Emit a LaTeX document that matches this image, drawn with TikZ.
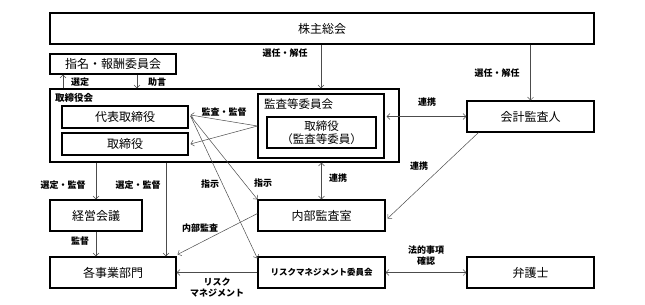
\documentclass[tikz,border=0pt]{standalone}
\usepackage{fontspec}
\setmainfont{Noto Sans CJK JP}
\usetikzlibrary{arrows.meta}
\tikzset{
  box/.style={draw=black, line width=1.1pt, inner sep=0pt, font=\fontsize{12}{14}\selectfont},
  lbl/.style={inner sep=0pt, font=\bfseries\fontsize{9}{11}\selectfont, align=center},
  conn/.style={draw=black!70, line width=0.5pt, -{Straight Barb[length=3pt,width=6pt]}},
  conn2/.style={draw=black!70, line width=0.5pt, {Straight Barb[length=3pt,width=6pt]}-{Straight Barb[length=3pt,width=6pt]}},
}
\begin{document}
\begin{tikzpicture}[x=1pt,y=-1pt]
\useasboundingbox (0,0) rectangle (645,305);
% boxes
\node[box, minimum width=544pt, minimum height=31pt] (kabu) at (322,28.5) {株主総会};
\node[box, minimum width=126pt, minimum height=20pt] (shimei) at (113,64) {指名・報酬委員会};
\node[box, minimum width=349pt, minimum height=73pt] (torikai) at (224.5,125.5) {};
\node[lbl, anchor=west, font=\bfseries\fontsize{9.5}{12}\selectfont] (torikailbl) at (55,98) {取締役会};
\node[box, minimum width=126pt, minimum height=22pt] (daihyo) at (125,117) {代表取締役};
\node[box, minimum width=126pt, minimum height=22pt] (torishimari) at (125,144) {取締役};
\node[box, minimum width=126pt, minimum height=64pt] (kansa) at (321,126) {};
\node[lbl, anchor=west, font=\fontsize{11.5}{13}\selectfont] (kansalbl) at (264,104.5) {監査等委員会};
\node[box, minimum width=109pt, minimum height=31pt, align=center, font=\fontsize{11.5}{13.5}\selectfont] (kansain) at (321.5,132.5) {取締役\\（監査等委員）};
\node[box, minimum width=127pt, minimum height=31pt] (kaikei) at (530.5,116.5) {会計監査人};
\node[box, minimum width=127pt, minimum height=31pt] (naibu) at (321.5,215.5) {内部監査室};
\node[box, minimum width=127pt, minimum height=31pt, font=\bfseries\fontsize{8.5}{10}\selectfont] (risk) at (321.5,272.5) {リスクマネジメント委員会};
\node[box, minimum width=127pt, minimum height=31pt] (bengo) at (530.5,272.5) {弁護士};
\node[box, minimum width=92pt, minimum height=31pt] (keiei) at (96,215.5) {経営会議};
\node[box, minimum width=126pt, minimum height=31pt] (kaku) at (113,272.5) {各事業部門};
% helper coordinates
\coordinate (x63) at (63,0);
\coordinate (x137) at (137,0);
\coordinate (x166) at (166,0);
% connectors
\draw[conn] (kabu.south -| kansa) -- (torikai.north -| kansa);
\draw[conn] (kabu.south -| kaikei) -- (kaikei.north);
\draw[conn] (torikai.north -| x63) -- (shimei.south -| x63);
\draw[conn] (shimei.south -| x137) -- (torikai.north -| x137);
\draw[conn2] ([xshift=2pt]kansa.east |- kaikei) -- (kaikei.west);
\draw[conn] ([xshift=12pt]kaikei.south west) -- ([xshift=2pt,yshift=-3pt]naibu.east);
\draw[conn2] (torikai.south -| naibu) -- (naibu.north);
\draw[conn] (kansa.west) -- ([xshift=2pt,yshift=2pt]daihyo.east);
\draw[conn] (kansa.west) -- ([xshift=2pt]torishimari.east);
\draw[conn] ([xshift=2pt,yshift=1pt]daihyo.east) -- (naibu.north west);
\draw[conn] ([xshift=2pt,yshift=1pt]daihyo.east) -- ([yshift=-2pt]risk.north west);
\draw[conn] ([yshift=2pt]naibu.west) -- ([xshift=1pt,yshift=2pt]kaku.north east);
\draw[conn] (risk.west) -- (kaku.east);
\draw[conn2] (risk.east) -- (bengo.west);
\draw[conn] (torikai.south -| keiei) -- (keiei.north);
\draw[conn] (torikai.south -| x166) -- (kaku.north -| x166);
\draw[conn] (keiei.south) -- (kaku.north -| keiei);
% labels
\node[lbl] (l1) at (285,53) {選任・解任};
\node[lbl] (l2) at (497,73) {選任・解任};
\node[lbl] (l3) at (80,82) {選定};
\node[lbl] (l4) at (157,82) {助言};
\node[lbl] (l5) at (224,112) {監査・監督};
\node[lbl] (l6) at (427,102) {連携};
\node[lbl] (l7) at (338,178) {連携};
\node[lbl] (l8) at (419,166) {連携};
\node[lbl] (l9) at (63,185) {選定・監督};
\node[lbl] (l10) at (138,185) {選定・監督};
\node[lbl] (l11) at (80,241) {監督};
\node[lbl] (l12) at (210,184) {指示};
\node[lbl] (l13) at (263,183) {指示};
\node[lbl] (l14) at (200,228) {内部監査};
\node[lbl] (l15) at (217,288) {リスク\\マネジメント};
\node[lbl] (l16) at (426,256) {法的事項\\確認};
\end{tikzpicture}
\end{document}
